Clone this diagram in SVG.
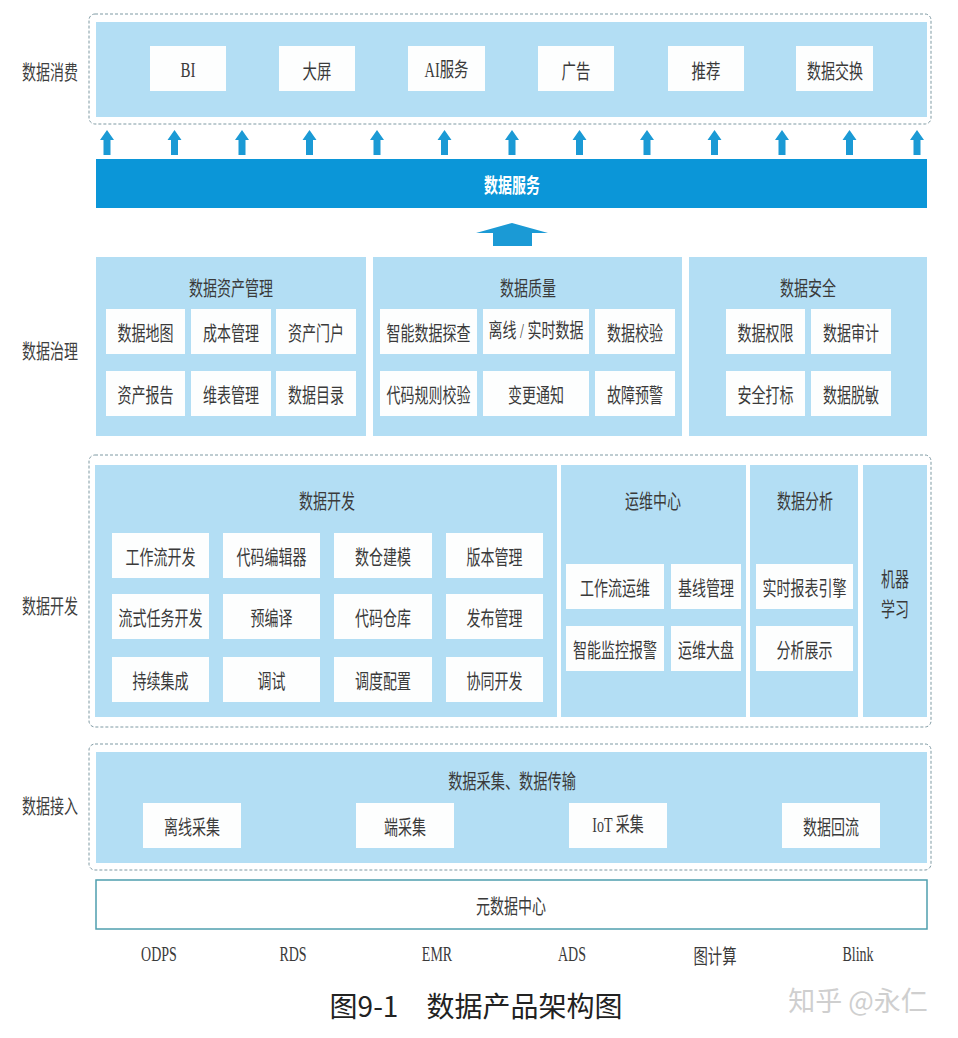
<svg xmlns="http://www.w3.org/2000/svg" width="958" height="1038" viewBox="0 0 958 1038">
<defs>
<style>
.bg{fill:#ffffff}
.panel{fill:#b3def4}
.box{fill:#fdfefe}
.dash{fill:none;stroke:#7f9aa3;stroke-width:1;stroke-dasharray:3 2}
.t{font-family:"Noto Sans CJK SC",sans-serif;font-size:20px;fill:#3a3a3a;text-anchor:middle;dominant-baseline:central}
.lat{font-family:"Liberation Serif","Noto Sans CJK SC",serif}
.side{fill:#3f3f3f}
.arrow{fill:#1b9ad5}
</style>
<path id="sa" d="M0,0 L7,10 L3.5,10 L3.5,25 L-3.5,25 L-3.5,10 L-7,10 Z"/>
</defs>
<rect class="bg" x="0" y="0" width="958" height="1038"/>

<g id="side-labels">
<text class="t side" transform="translate(50 71) scale(.7 1)">数据消费</text>
<text class="t side" transform="translate(50 350) scale(.7 1)">数据治理</text>
<text class="t side" transform="translate(50 605) scale(.7 1)">数据开发</text>
<text class="t side" transform="translate(50 805) scale(.7 1)">数据接入</text>
</g>

<g id="consumption">
<rect class="dash" x="89" y="14" width="842" height="110" rx="6"/>
<rect class="panel" x="96" y="22" width="831" height="95"/>
<g id="bi"><rect class="box" x="150" y="46" width="76" height="45"/><text class="t lat" transform="translate(188 70) scale(.75 1)">BI</text></g>
<g id="dapin"><rect class="box" x="279" y="46" width="76" height="45"/><text class="t" transform="translate(317 70) scale(.72 1)">大屏</text></g>
<g id="ai"><rect class="box" x="408" y="46" width="77" height="45"/><text class="t lat" transform="translate(446.5 70) scale(.72 1)">AI服务</text></g>
<g id="guanggao"><rect class="box" x="538" y="46" width="76" height="45"/><text class="t" transform="translate(576 70) scale(.72 1)">广告</text></g>
<g id="tuijian"><rect class="box" x="668" y="46" width="76" height="45"/><text class="t" transform="translate(706 70) scale(.72 1)">推荐</text></g>
<g id="jiaohuan"><rect class="box" x="796" y="46" width="77" height="45"/><text class="t" transform="translate(835 70) scale(.7 1)">数据交换</text></g>
</g>

<g id="connectors">
<use href="#sa" class="arrow" x="107" y="130"/>
<use href="#sa" class="arrow" x="174.5" y="130"/>
<use href="#sa" class="arrow" x="242" y="130"/>
<use href="#sa" class="arrow" x="309.5" y="130"/>
<use href="#sa" class="arrow" x="377" y="130"/>
<use href="#sa" class="arrow" x="444.5" y="130"/>
<use href="#sa" class="arrow" x="512" y="130"/>
<use href="#sa" class="arrow" x="579.5" y="130"/>
<use href="#sa" class="arrow" x="647" y="130"/>
<use href="#sa" class="arrow" x="714.5" y="130"/>
<use href="#sa" class="arrow" x="782" y="130"/>
<use href="#sa" class="arrow" x="849.5" y="130"/>
<use href="#sa" class="arrow" x="917" y="130"/>
<path class="arrow" d="M512,223 L548,233 L532,233 L532,246 L493,246 L493,233 L476,233 Z"/>
</g>

<g id="data-service">
<rect x="96" y="159" width="831" height="49" fill="#0b96d8"/>
<text class="t" transform="translate(512 184) scale(.7 1)" style="fill:#ffffff;font-weight:bold">数据服务</text>
</g>

<g id="asset-mgmt">
<rect class="panel" x="96" y="257" width="270" height="179"/>
<text class="t" transform="translate(231 287) scale(.7 1)">数据资产管理</text>
<rect class="box" x="106" y="309" width="79" height="45"/><text class="t" transform="translate(145.5 332) scale(.7 1)">数据地图</text>
<rect class="box" x="191" y="309" width="80" height="45"/><text class="t" transform="translate(231 332) scale(.7 1)">成本管理</text>
<rect class="box" x="276" y="309" width="80" height="45"/><text class="t" transform="translate(316 332) scale(.7 1)">资产门户</text>
<rect class="box" x="106" y="371" width="79" height="45"/><text class="t" transform="translate(145.5 394) scale(.7 1)">资产报告</text>
<rect class="box" x="191" y="371" width="80" height="45"/><text class="t" transform="translate(231 394) scale(.7 1)">维表管理</text>
<rect class="box" x="276" y="371" width="80" height="45"/><text class="t" transform="translate(316 394) scale(.7 1)">数据目录</text>
</g>

<g id="quality">
<rect class="panel" x="373" y="257" width="309" height="179"/>
<text class="t" transform="translate(528 287) scale(.7 1)">数据质量</text>
<rect class="box" x="380" y="309" width="97" height="45"/><text class="t" transform="translate(428.5 332) scale(.7 1)">智能数据探查</text>
<rect class="box" x="483" y="309" width="106" height="45"/><text class="t lat" transform="translate(536 332) scale(.7 1)">离线 / 实时数据</text>
<rect class="box" x="595" y="309" width="80" height="45"/><text class="t" transform="translate(635 332) scale(.7 1)">数据校验</text>
<rect class="box" x="380" y="371" width="97" height="45"/><text class="t" transform="translate(428.5 394) scale(.7 1)">代码规则校验</text>
<rect class="box" x="483" y="371" width="106" height="45"/><text class="t" transform="translate(536 394) scale(.7 1)">变更通知</text>
<rect class="box" x="595" y="371" width="80" height="45"/><text class="t" transform="translate(635 394) scale(.7 1)">故障预警</text>
</g>

<g id="security">
<rect class="panel" x="689" y="257" width="238" height="179"/>
<text class="t" transform="translate(808 287) scale(.7 1)">数据安全</text>
<rect class="box" x="726" y="309" width="79" height="45"/><text class="t" transform="translate(765.5 332) scale(.7 1)">数据权限</text>
<rect class="box" x="811" y="309" width="80" height="45"/><text class="t" transform="translate(851 332) scale(.7 1)">数据审计</text>
<rect class="box" x="726" y="371" width="79" height="45"/><text class="t" transform="translate(765.5 394) scale(.7 1)">安全打标</text>
<rect class="box" x="811" y="371" width="80" height="45"/><text class="t" transform="translate(851 394) scale(.7 1)">数据脱敏</text>
</g>

<g id="dev-frame">
<rect class="dash" x="89" y="455" width="842" height="272" rx="6"/>
</g>

<g id="data-dev">
<rect class="panel" x="95" y="465" width="462" height="252"/>
<text class="t" transform="translate(327 500) scale(.7 1)">数据开发</text>
<rect class="box" x="112" y="533" width="97" height="45"/><text class="t" transform="translate(160.5 556) scale(.7 1)">工作流开发</text>
<rect class="box" x="223" y="533" width="97" height="45"/><text class="t" transform="translate(271.5 556) scale(.7 1)">代码编辑器</text>
<rect class="box" x="334" y="533" width="98" height="45"/><text class="t" transform="translate(383 556) scale(.7 1)">数仓建模</text>
<rect class="box" x="446" y="533" width="97" height="45"/><text class="t" transform="translate(494.5 556) scale(.7 1)">版本管理</text>
<rect class="box" x="112" y="594" width="97" height="45"/><text class="t" transform="translate(160.5 617) scale(.7 1)">流式任务开发</text>
<rect class="box" x="223" y="594" width="97" height="45"/><text class="t" transform="translate(271.5 617) scale(.7 1)">预编译</text>
<rect class="box" x="334" y="594" width="98" height="45"/><text class="t" transform="translate(383 617) scale(.7 1)">代码仓库</text>
<rect class="box" x="446" y="594" width="97" height="45"/><text class="t" transform="translate(494.5 617) scale(.7 1)">发布管理</text>
<rect class="box" x="112" y="657" width="97" height="45"/><text class="t" transform="translate(160.5 680) scale(.7 1)">持续集成</text>
<rect class="box" x="223" y="657" width="97" height="45"/><text class="t" transform="translate(271.5 680) scale(.7 1)">调试</text>
<rect class="box" x="334" y="657" width="98" height="45"/><text class="t" transform="translate(383 680) scale(.7 1)">调度配置</text>
<rect class="box" x="446" y="657" width="97" height="45"/><text class="t" transform="translate(494.5 680) scale(.7 1)">协同开发</text>
</g>

<g id="ops-center">
<rect class="panel" x="561" y="465" width="185" height="252"/>
<text class="t" transform="translate(653 500) scale(.7 1)">运维中心</text>
<rect class="box" x="566" y="564" width="98" height="45"/><text class="t" transform="translate(615 587) scale(.7 1)">工作流运维</text>
<rect class="box" x="671" y="564" width="70" height="45"/><text class="t" transform="translate(706 587) scale(.7 1)">基线管理</text>
<rect class="box" x="566" y="626" width="98" height="45"/><text class="t" transform="translate(615 649) scale(.7 1)">智能监控报警</text>
<rect class="box" x="671" y="626" width="70" height="45"/><text class="t" transform="translate(706 649) scale(.7 1)">运维大盘</text>
</g>

<g id="analysis">
<rect class="panel" x="750" y="465" width="108" height="252"/>
<text class="t" transform="translate(805 500) scale(.7 1)">数据分析</text>
<rect class="box" x="756" y="564" width="97" height="45"/><text class="t" transform="translate(804.5 587) scale(.7 1)">实时报表引擎</text>
<rect class="box" x="756" y="626" width="97" height="45"/><text class="t" transform="translate(804.5 649) scale(.7 1)">分析展示</text>
</g>

<g id="ml">
<rect class="panel" x="863" y="465" width="64" height="252"/>
<text class="t" transform="translate(895 578) scale(.7 1)">机器</text>
<text class="t" transform="translate(895 608) scale(.7 1)">学习</text>
</g>

<g id="access">
<rect class="dash" x="89" y="744" width="842" height="126" rx="6"/>
<rect class="panel" x="96" y="752" width="831" height="111"/>
<text class="t" transform="translate(512 780) scale(.71 1)">数据采集、数据传输</text>
<rect class="box" x="143" y="803" width="98" height="45"/><text class="t" transform="translate(192 826) scale(.7 1)">离线采集</text>
<rect class="box" x="356" y="803" width="98" height="45"/><text class="t" transform="translate(405 826) scale(.7 1)">端采集</text>
<rect class="box" x="569" y="803" width="98" height="45"/><text class="t lat" transform="translate(618 826) scale(.7 1)">IoT 采集</text>
<rect class="box" x="782" y="803" width="98" height="45"/><text class="t" transform="translate(831 826) scale(.7 1)">数据回流</text>
</g>

<g id="metadata">
<rect x="96" y="880" width="831" height="49" fill="#ffffff" stroke="#4f9fae" stroke-width="1.5"/>
<text class="t" transform="translate(511 905) scale(.7 1)">元数据中心</text>
</g>

<g id="engines">
<text class="t lat" transform="translate(159 955) scale(.7 1)">ODPS</text>
<text class="t lat" transform="translate(293 955) scale(.7 1)">RDS</text>
<text class="t lat" transform="translate(437 955) scale(.7 1)">EMR</text>
<text class="t lat" transform="translate(572 955) scale(.7 1)">ADS</text>
<text class="t" transform="translate(715 955) scale(.72 1)">图计算</text>
<text class="t lat" transform="translate(858 955) scale(.7 1)">Blink</text>
</g>

<g id="caption">
<text x="476" y="1005" style="font-family:'Noto Sans CJK SC',sans-serif;font-size:28px;fill:#222;text-anchor:middle;dominant-baseline:central">图9-1　数据产品架构图</text>
<text x="858" y="999" style="font-family:'Noto Sans CJK SC',sans-serif;font-size:27px;fill:#cfcfcf;text-anchor:middle;dominant-baseline:central">知乎 @永仁</text>
</g>
</svg>
